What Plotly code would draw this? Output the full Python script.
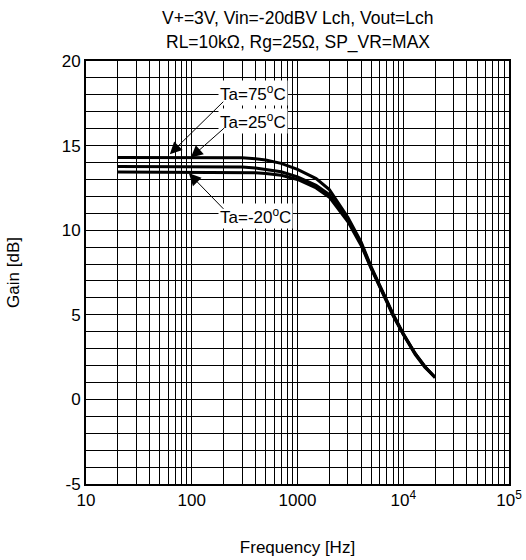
import numpy as np
import plotly.graph_objects as go

freq = [20, 50, 100, 200, 300, 400, 500, 700, 1000, 1500, 2000, 3000, 4000, 5000, 7000, 8000, 10000, 13000, 16000, 20000]
ta75 = [14.3, 14.3, 14.3, 14.3, 14.28, 14.22, 14.15, 13.95, 13.6, 13.05, 12.4, 10.75, 9.3, 7.8, 5.85, 5.05, 3.9, 2.7, 1.95, 1.3]
ta25 = [13.76, 13.76, 13.76, 13.75, 13.73, 13.68, 13.6, 13.45, 13.15, 12.65, 12.1, 10.6, 9.2, 7.75, 5.8, 5.0, 3.85, 2.7, 1.95, 1.3]
ta_20 = [13.44, 13.44, 13.44, 13.44, 13.43, 13.4, 13.35, 13.25, 13.0, 12.5, 11.95, 10.5, 9.1, 7.7, 5.75, 4.95, 3.85, 2.65, 1.9, 1.3]

series = [("Ta=75°C", ta75), ("Ta=25°C", ta25), ("Ta=-20°C", ta_20)]

x_decades = [10, 100, 1000, 10000, 100000]
x_labels = ["10", "100", "1000", "10<sup>4</sup>", "10<sup>5</sup>"]
x_minor = [d * m for d in x_decades[:-1] for m in range(2, 10)]
y_ticks = [-5, 0, 5, 10, 15, 20]
y_labels = ["-5", "0", "5", "10", "15", "20"]

FONT = "Liberation Sans, Arial, sans-serif"

fig = go.Figure()
for name, vals in series:
    fig.add_trace(go.Scatter(x=freq, y=vals, mode="lines", name=name,
                             line=dict(color="black", width=3), showlegend=False))

fig.update_layout(
    width=526, height=560,
    margin=dict(l=86, r=17, t=61, b=76, autoexpand=False),
    plot_bgcolor="white", paper_bgcolor="white",
    font=dict(family=FONT, color="black", size=17),
    xaxis=dict(type="log", range=[1, 5], tickvals=x_decades, ticktext=x_labels,
               showgrid=True, gridcolor="black", gridwidth=1,
               minor=dict(tickvals=x_minor, showgrid=True, gridcolor="black", gridwidth=1, ticks=""),
               showline=True, linecolor="black", linewidth=2, mirror=True,
               ticks="", tickfont=dict(size=17), zeroline=False, automargin=False,
               title=dict(text="Frequency [Hz]", font=dict(size=17), standoff=32)),
    yaxis=dict(range=[-5, 20], tickvals=y_ticks, ticktext=y_labels,
               showgrid=True, gridcolor="black", gridwidth=1,
               minor=dict(dtick=1, tick0=0, showgrid=True, gridcolor="black", gridwidth=1, ticks=""),
               showline=True, linecolor="black", linewidth=2, mirror=True,
               ticks="", tickfont=dict(size=17), zeroline=False, automargin=False,
               title=dict(text="Gain [dB]", font=dict(size=17), standoff=38)),
)

# title lines
fig.add_annotation(text="V+=3V, Vin=-20dBV Lch, Vout=Lch", xref="paper", yref="paper",
                   x=0.5, y=1, yanchor="middle", yshift=43, showarrow=False, font=dict(size=17.5))
fig.add_annotation(text="RL=10kΩ, Rg=25Ω, SP_VR=MAX", xref="paper", yref="paper",
                   x=0.5, y=1, yanchor="middle", yshift=19, showarrow=False, font=dict(size=17.5))

# labels
labels = [("Ta=75<sup>o</sup>C", 18.1), ("Ta=25<sup>o</sup>C", 16.45), ("Ta=-20<sup>o</sup>C", 10.85)]
for txt, yv in labels:
    fig.add_annotation(text=txt, x=np.log10(178), y=yv, xanchor="left", showarrow=False,
                       bgcolor="white", font=dict(size=17), borderpad=1)

# arrows (tip in data coords, tail offset in px)
arrows = [(62, 14.49, 55, -54), (98, 14.29, 35, -31), (94, 13.36, 36, 37)]
for fx, yv, axp, ayp in arrows:
    fig.add_annotation(text="", x=np.log10(fx), y=yv, ax=axp, ay=ayp, showarrow=True,
                       arrowhead=2, arrowsize=2.4, arrowwidth=1, arrowcolor="black")

fig.write_html("out.html", config={"displayModeBar": False},
               post_script="document.body.style.margin='0';")
